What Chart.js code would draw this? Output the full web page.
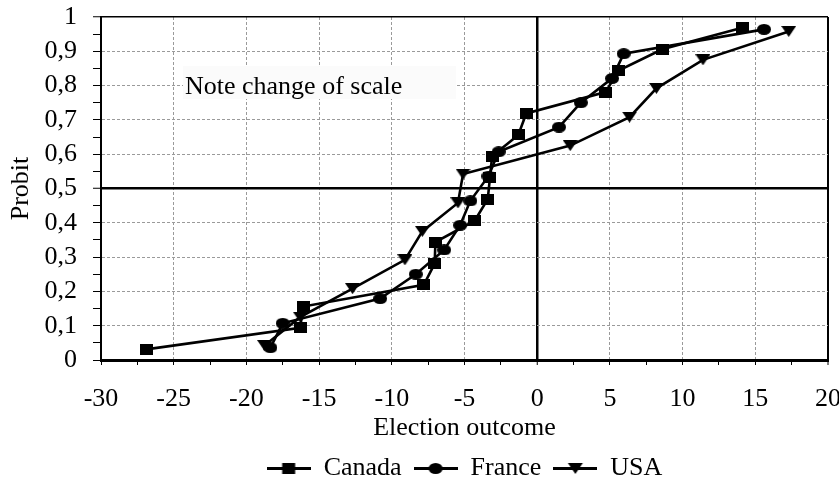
<!DOCTYPE html>
<html><head><meta charset="utf-8">
<script src="https://cdn.jsdelivr.net/npm/chart.js@4.4.0/dist/chart.umd.min.js"></script>
<style>html,body{margin:0;padding:0;background:#fff;}canvas{display:block;}</style>
</head><body>
<canvas id="c" width="839" height="483" style="width:839px;height:483px"></canvas>
<script>
// ---- data ----
const seriesNames = ['Canada', 'France', 'USA'];
const canadaX = [-26.9, -16.3, -16.1, -7.8, -7.05, -7.0, -4.3, -3.4, -3.25, -3.1, -1.3, -0.75, 4.7, 5.6, 8.6, 14.1];
const canadaY = [0.031, 0.094, 0.156, 0.219, 0.281, 0.344, 0.406, 0.469, 0.531, 0.594, 0.656, 0.719, 0.781, 0.844, 0.906, 0.969];
const franceX = [-18.35, -17.5, -10.8, -8.35, -6.4, -5.3, -4.6, -3.35, -2.65, 1.5, 3.0, 5.15, 5.95, 15.6];
const franceY = [0.036, 0.107, 0.179, 0.25, 0.321, 0.393, 0.464, 0.536, 0.607, 0.679, 0.75, 0.821, 0.893, 0.964];
const usaX = [-18.75, -16.3, -12.7, -9.1, -7.9, -5.45, -5.1, 2.27, 6.35, 8.2, 11.4, 17.3];
const usaY = [0.042, 0.125, 0.208, 0.292, 0.375, 0.458, 0.542, 0.625, 0.708, 0.792, 0.875, 0.958];
const xTickLabels = ['-30', '-25', '-20', '-15', '-10', '-5', '0', '5', '10', '15', '20'];
const yTickLabels = ['0', '0,1', '0,2', '0,3', '0,4', '0,5', '0,6', '0,7', '0,8', '0,9', '1'];
const xTitle = 'Election outcome';
const yTitle = 'Probit';
const noteText = 'Note change of scale';

// ---- marker images ----
function mk(w, h, draw) {
  const c = document.createElement('canvas'); c.width = w; c.height = h;
  const g = c.getContext('2d'); g.fillStyle = '#000'; draw(g, w, h); return c;
}
function shape(kind) {
  return function (g, w, h, ox, oy) {
    ox = ox || 0; oy = oy || 0;
    if (kind === 'square') { g.fillRect(ox, oy, 13, 11); }
    else if (kind === 'circle') { g.beginPath(); g.ellipse(ox + 7, oy + 5.5, 7, 5.5, 0, 0, Math.PI * 2); g.fill(); }
    else { g.beginPath(); g.moveTo(ox, oy); g.lineTo(ox + 15, oy); g.lineTo(ox + 7.5, oy + 11); g.closePath(); g.fill(); }
  };
}
const markerSize = { square: [13, 11], circle: [14, 11], tri: [15, 11] };
const kinds = ['square', 'circle', 'tri'];
const markers = kinds.map(k => mk(markerSize[k][0], markerSize[k][1], (g) => shape(k)(g)));
const legendIcons = kinds.map(k => mk(44, 14, (g, w, h) => {
  g.fillRect(0, 6, 44, 3);
  const [mw, mh] = markerSize[k];
  shape(k)(g, w, h, (44 - mw) / 2, (14 - mh) / 2 + 0.5);
}));

const xs = [canadaX, franceX, usaX];
const ys = [canadaY, franceY, usaY];
const datasets = seriesNames.map((name, i) => ({
  label: name,
  data: xs[i].map((x, j) => ({ x: x, y: ys[i][j] })),
  showLine: true,
  borderColor: '#000',
  backgroundColor: '#000',
  borderWidth: 2.6,
  pointStyle: markers[i],
  pointRadius: 6,
  tension: 0
}));

Chart.defaults.font.family = '"Liberation Serif", "Times New Roman", serif';
Chart.defaults.font.size = 26;
Chart.defaults.color = '#000';

const isMult = (v, s) => Math.abs(v / s - Math.round(v / s)) < 1e-6;

const notePlugin = {
  id: 'note',
  beforeDatasetsDraw(chart) {
    const { ctx, chartArea } = chart;
    ctx.save();
    ctx.fillStyle = '#fbfbfb';
    ctx.fillRect(chartArea.left + 82, chartArea.top + 49, 273, 33);
    ctx.fillStyle = '#000';
    ctx.font = '26px "Liberation Serif", "Times New Roman", serif';
    ctx.textBaseline = 'alphabetic';
    ctx.fillText(noteText, chartArea.left + 84, chartArea.top + 77);
    ctx.restore();
  }
};

new Chart(document.getElementById('c'), {
  type: 'scatter',
  data: { datasets: datasets },
  plugins: [notePlugin],
  options: {
    responsive: false,
    animation: false,
    devicePixelRatio: 1,
    layout: { padding: { left: 0, right: 11, top: 17, bottom: 0 } },
    plugins: {
      tooltip: { enabled: false },
      legend: {
        position: 'bottom',
        fullSize: false,
        maxHeight: 40,
        labels: {
          usePointStyle: true,
          pointStyleWidth: 44,
          padding: 12,
          font: { size: 26 },
          generateLabels: (chart) => seriesNames.map((n, i) => ({
            text: n, datasetIndex: i, fillStyle: '#000', strokeStyle: '#000',
            lineWidth: 0, hidden: false, pointStyle: legendIcons[i], rotation: 0
          }))
        }
      }
    },
    scales: {
      x: {
        type: 'linear', min: -30, max: 20,
        afterFit: (s) => { s.height = 83; s.paddingLeft = 0; s.paddingRight = 0; },
        ticks: {
          stepSize: 2.5, autoSkip: false, maxRotation: 0, padding: 19,
          callback: (v) => isMult(v, 5) ? xTickLabels[Math.round((v + 30) / 5)] : ''
        },
        grid: {
          tickLength: 5,
          tickColor: '#000',
          tickWidth: 1,
          color: (c) => {
            const v = c.tick ? c.tick.value : null;
            if (v === null || !isMult(v, 5) || v === -30) return 'rgba(0,0,0,0)';
            if (v === 0 || v === 20) return '#000';
            return '#9a9a9a';
          },
          lineWidth: (c) => {
            const v = c.tick ? c.tick.value : null;
            if (v === 0) return 2.5;
            if (v === 20) return 2;
            return 1;
          }
        },
        border: {
          color: '#000', width: 3,
          dash: (c) => {
            const v = c.tick ? c.tick.value : null;
            if (v === null || v === 0 || v === 20) return [];
            return [3, 2];
          }
        },
        title: { display: true, text: xTitle, font: { size: 26 }, padding: { top: 0, bottom: -1 } }
      },
      y: {
        type: 'linear', min: 0, max: 1,
        afterFit: (s) => { s.width = 101; s.paddingTop = 0; s.paddingBottom = 0; },
        ticks: {
          stepSize: 0.05, autoSkip: false, padding: 16,
          callback: (v) => isMult(v, 0.1) ? yTickLabels[Math.round(v * 10)] : ''
        },
        grid: {
          tickLength: 8,
          tickColor: '#000',
          tickWidth: 1,
          color: (c) => {
            const v = c.tick ? c.tick.value : null;
            if (v === null || !isMult(v, 0.1) || Math.abs(v) < 1e-9) return 'rgba(0,0,0,0)';
            if (Math.abs(v - 0.5) < 1e-9 || Math.abs(v - 1) < 1e-9) return '#000';
            return '#9a9a9a';
          },
          lineWidth: (c) => {
            const v = c.tick ? c.tick.value : null;
            if (v !== null && Math.abs(v - 0.5) < 1e-9) return 2.5;
            if (v !== null && Math.abs(v - 1) < 1e-9) return 1.5;
            return 1;
          }
        },
        border: {
          color: '#000', width: 2,
          dash: (c) => {
            const v = c.tick ? c.tick.value : null;
            if (v === null || Math.abs(v - 0.5) < 1e-9 || Math.abs(v - 1) < 1e-9) return [];
            return [3, 2];
          }
        },
        title: { display: true, text: yTitle, font: { size: 26 }, padding: { top: 6, bottom: 0 } }
      }
    }
  }
});
</script>
</body></html>
